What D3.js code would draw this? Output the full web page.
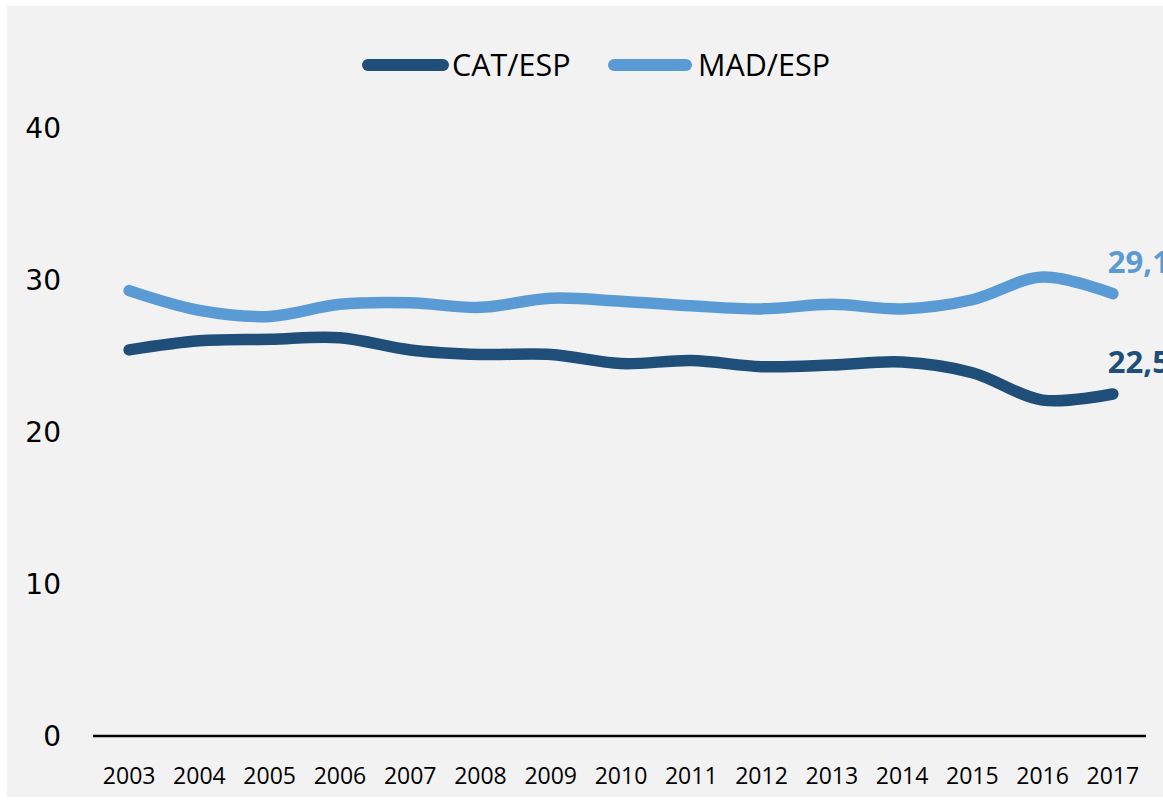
<!DOCTYPE html>
<html>
<head>
<meta charset="utf-8">
<script src="https://cdn.jsdelivr.net/npm/d3@7"></script>
<style>
  html, body { margin: 0; padding: 0; background: #ffffff; }
  svg { display: block; }
</style>
</head>
<body>
<svg id="chart" width="1163" height="805"></svg>
<script>
const years = ["2003","2004","2005","2006","2007","2008","2009","2010","2011","2012","2013","2014","2015","2016","2017"];
const catEsp = [25.4, 26.0, 26.1, 26.2, 25.4, 25.1, 25.1, 24.5, 24.7, 24.3, 24.4, 24.6, 23.9, 22.1, 22.5];
const madEsp = [29.3, 28.0, 27.6, 28.4, 28.5, 28.2, 28.8, 28.6, 28.3, 28.1, 28.4, 28.1, 28.7, 30.2, 29.1];
const yTicks = [0, 10, 20, 30, 40];
const seriesNames = ["CAT/ESP", "MAD/ESP"];
const lastLabels = ["22,5", "29,1"];

const colors = ["#1f4e79", "#5b9bd5"];
const svg = d3.select("#chart");

svg.append("rect").attr("x", 7).attr("y", 6).attr("width", 1163 - 7).attr("height", 797 - 6).attr("fill", "#f2f2f2");

const x = d3.scalePoint().domain(years).range([94, 1148]).padding(0.5);
const y = d3.scaleLinear().domain([0, 40]).range([736, 128]);

// Y labels
svg.append("g").selectAll("text").data(yTicks).join("text")
  .attr("x", 61).attr("y", d => y(d)).attr("dy", "0.36em")
  .attr("text-anchor", "end")
  .attr("font-family", "DejaVu Sans, Verdana, sans-serif")
  .attr("font-size", 28).attr("fill", "#000")
  .text(d => d);

// X axis line
svg.append("line").attr("x1", 93).attr("x2", 1146).attr("y1", y(0)).attr("y2", y(0))
  .attr("stroke", "#000").attr("stroke-width", 2.5);

// X labels
svg.append("g").selectAll("text").data(years).join("text")
  .attr("x", d => x(d)).attr("y", 784)
  .attr("text-anchor", "middle")
  .attr("font-family", "Open Sans, sans-serif")
  .attr("font-size", 23).attr("fill", "#000")
  .text(d => d);

const line = d3.line().x((d, i) => x(years[i])).y(d => y(d)).curve(d3.curveCatmullRom.alpha(0.5));

const allSeries = [catEsp, madEsp];
allSeries.forEach((s, k) => {
  svg.append("path").datum(s).attr("d", line)
    .attr("fill", "none").attr("stroke", colors[k]).attr("stroke-width", 11.5)
    .attr("stroke-linecap", "round").attr("stroke-linejoin", "round");
  const last = s[s.length - 1];
  svg.append("text")
    .attr("x", x(years[years.length - 1]) - 5)
    .attr("y", y(last) - 21)
    .attr("font-family", "Open Sans, sans-serif").attr("font-weight", "bold")
    .attr("font-size", 31).attr("fill", colors[k])
    .text(lastLabels[k]);
});

// Legend
const legendItems = [
  {name: seriesNames[0], color: colors[0], x1: 368, x2: 443, tx: 452},
  {name: seriesNames[1], color: colors[1], x1: 614, x2: 686, tx: 698}
];
legendItems.forEach(it => {
  svg.append("line").attr("x1", it.x1).attr("x2", it.x2).attr("y1", 65).attr("y2", 65)
    .attr("stroke", it.color).attr("stroke-width", 12).attr("stroke-linecap", "round");
  svg.append("text").attr("x", it.tx).attr("y", 65).attr("dy", "0.36em")
    .attr("font-family", "Open Sans, sans-serif").attr("font-size", 30.5).attr("fill", "#000")
    .text(it.name);
});
</script>
</body>
</html>
